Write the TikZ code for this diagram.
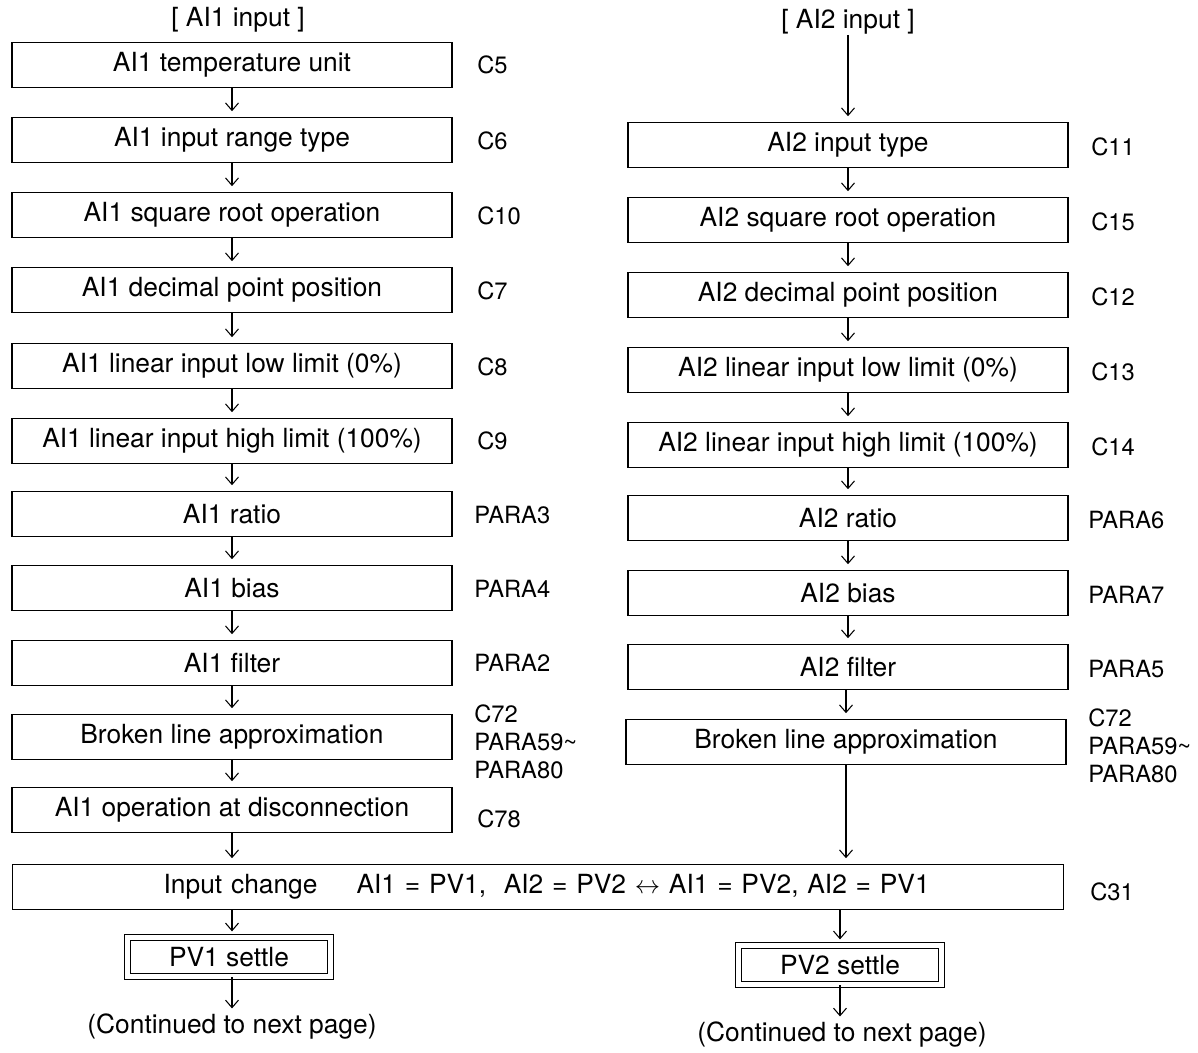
\documentclass[tikz,border=0pt]{standalone}
\usepackage{fontspec}
\setmainfont{TeX Gyre Heros}
\usetikzlibrary{arrows.meta}
\begin{document}
\begin{tikzpicture}[x=0.02cm, y=-0.02cm,
  box/.style={draw, line width=0.9pt, minimum width=8.8cm, minimum height=0.9cm, inner sep=0pt, font=\fontsize{15}{18}\selectfont},
  dbox/.style={draw, double, double distance=0.09cm, line width=0.7pt, minimum width=4.06cm, minimum height=0.78cm, inner sep=0pt, font=\fontsize{15}{18}\selectfont},
  code/.style={anchor=west, align=left, inner sep=0pt, font=\fontsize{13.5}{16}\selectfont},
  txt/.style={inner sep=0pt, font=\fontsize{15}{18}\selectfont},
  arr/.style={-{Straight Barb[length=1.5mm,width=2.6mm]}, line width=0.6pt, shorten >=1.1mm}
]
\useasboundingbox (0,0) rectangle (1198,1053);

% AI1 column
\node[txt] (ai1in) at (238,20) {[ AI1 input ]};
\node[box] (l1) at (232,65) {AI1 temperature unit};
\node[box] (l2) at (232,140) {AI1 input range type};
\node[box] (l3) at (232,215) {AI1 square root operation};
\node[box] (l4) at (232,290) {AI1 decimal point position};
\node[box] (l5) at (232,366) {AI1 linear input low limit (0\%)};
\node[box] (l6) at (232,441) {AI1 linear input high limit (100\%)};
\node[box] (l7) at (232,514) {AI1 ratio};
\node[box] (l8) at (232,588) {AI1 bias};
\node[box] (l9) at (232,663) {AI1 filter};
\node[box] (l10) at (232,737) {Broken line approximation};
\node[box] (l11) at (232,810) {AI1 operation at disconnection};

\node[code] (c5) at (477,65) {C5};
\node[code] (c6) at (477,141) {C6};
\node[code] (c10) at (477,216) {C10};
\node[code] (c7) at (477,291) {C7};
\node[code] (c8) at (477,367) {C8};
\node[code] (c9) at (477,441) {C9};
\node[code] (p3) at (474,515) {PARA3};
\node[code] (p4) at (474,589) {PARA4};
\node[code] (p2) at (474,663) {PARA2};
\node[code] (bl1) at (474,742) {C72\\PARA59\textasciitilde\\PARA80};
\node[code] (c78) at (477,819) {C78};

% AI2 column
\node[txt] (ai2in) at (848,22) {[ AI2 input ]};
\node[box] (r1) at (848,145) {AI2 input type};
\node[box] (r2) at (848,220) {AI2 square root operation};
\node[box] (r3) at (848,295) {AI2 decimal point position};
\node[box] (r4) at (848,370) {AI2 linear input low limit (0\%)};
\node[box] (r5) at (848,445) {AI2 linear input high limit (100\%)};
\node[box] (r6) at (848,518) {AI2 ratio};
\node[box] (r7) at (848,593) {AI2 bias};
\node[box] (r8) at (848,667) {AI2 filter};
\node[box] (r9) at (846,742) {Broken line approximation};

\node[code] (c11) at (1091,147) {C11};
\node[code] (c15) at (1091,222) {C15};
\node[code] (c12) at (1091,297) {C12};
\node[code] (c13) at (1091,372) {C13};
\node[code] (c14) at (1091,447) {C14};
\node[code] (p6) at (1088,520) {PARA6};
\node[code] (p7) at (1088,595) {PARA7};
\node[code] (p5) at (1088,669) {PARA5};
\node[code] (bl2) at (1088,746) {C72\\PARA59\textasciitilde\\PARA80};

% input change and settle
\node[box, minimum width=21.02cm, text width=21.02cm, align=left] (chg) at (538,887)
  {\hspace*{3.02cm}Input change\hspace{0.78cm}AI1 = PV1,\ \ AI2 = PV2 $\leftrightarrow$ AI1 = PV2, AI2 = PV1};
\node[code] (c31) at (1090,892) {C31};
\node[dbox] (pv1) at (229,957) {PV1 settle};
\node[dbox] (pv2) at (840,965) {PV2 settle};
\node[txt] (cont1) at (232,1027) {(Continued to next page)};
\node[txt] (cont2) at (842,1035) {(Continued to next page)};

% arrows
\draw[arr] (l1) -- (l2);
\draw[arr] (l2) -- (l3);
\draw[arr] (l3) -- (l4);
\draw[arr] (l4) -- (l5);
\draw[arr] (l5) -- (l6);
\draw[arr] (l6) -- (l7);
\draw[arr] (l7) -- (l8);
\draw[arr] (l8) -- (l9);
\draw[arr] (l9) -- (l10);
\draw[arr] (l10) -- (l11);
\draw[arr] (l11) -- (l11.south |- chg.north);
\draw[arr] (ai2in) -- (r1);
\draw[arr] (r1) -- (r2);
\draw[arr] (r2) -- (r3);
\draw[arr] (r3) -- (r4);
\draw[arr] (r4) -- (r5);
\draw[arr] (r5) -- (r6);
\draw[arr] (r6) -- (r7);
\draw[arr] (r7) -- (r8);
\draw[arr] (r8.south -| r9.north) -- (r9);
\draw[arr] (r9) -- (r9.south |- chg.north);
\draw[arr] (chg.south -| l11.south) -- (l11.south |- pv1.north);
\draw[arr] (chg.south -| pv2.north) -- (pv2);
\draw[arr] (l11.south |- pv1.south) -- (cont1);
\draw[arr] (pv2.south) -- (pv2.south |- cont2.north);
\end{tikzpicture}
\end{document}
